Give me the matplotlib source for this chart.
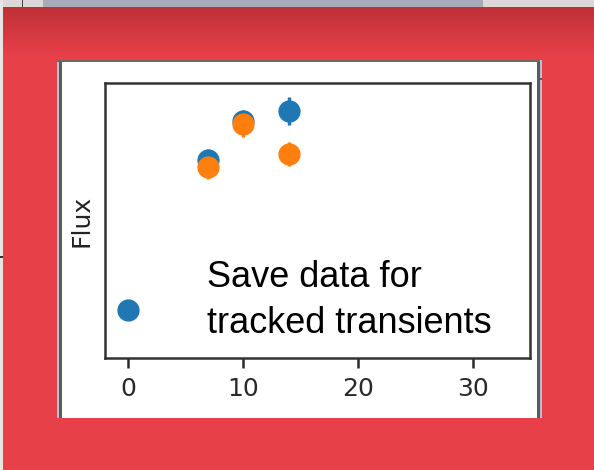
import matplotlib
matplotlib.use("Agg")
import matplotlib.pyplot as plt
import numpy as np
from matplotlib.patches import Rectangle

# epochs (days) and flux for the two tracked transients
days_a = [0, 7, 10, 14]
flux_a = [0.175, 0.72, 0.862, 0.898]
err_a = [0.03, 0.04, 0.04, 0.05]

days_b = [7, 10, 14]
flux_b = [0.695, 0.851, 0.742]
err_b = [0.045, 0.047, 0.045]

xticks = [0, 10, 20, 30]
note = "Save data for\ntracked transients"

W, H = 594, 470
fig = plt.figure(figsize=(W / 100, H / 100), dpi=100)
fig.patch.set_facecolor("#e9404a")


def px_rect(x0, y0, x1, y1, color, z=0):
    # rectangle in screen pixels (y measured from the top)
    fig.add_artist(Rectangle((x0 / W, 1 - y1 / H), (x1 - x0) / W, (y1 - y0) / H,
                             transform=fig.transFigure, facecolor=color,
                             edgecolor="none", zorder=z))


# red backdrop with a darker top gradient
bg = fig.add_axes([0, 0, 1, 1], zorder=-10)
bg.axis("off")
top = np.array([0.75, 0.19, 0.22])
low = np.array([0.913, 0.251, 0.290])
rows = np.clip((np.arange(H) - 7) / 50, 0, 1)[:, None]
img = top + (low - top) * rows
bg.imshow(np.repeat(img[:, None, :], 2, axis=1), aspect="auto",
          extent=[0, 1, 0, 1], transform=fig.transFigure)

# screenshot leftovers above and to the left
px_rect(0, 0, W, 7, "#d9d9d9", 1)
px_rect(43, 0, 483, 7, "#a3adb9", 1)
px_rect(22, 0, 23, 7, "#444444", 2)
px_rect(0, 0, 3, H, "#e6e6e6", 1)
px_rect(0, 256, 3, 258, "#333333", 2)

# white slide panel
px_rect(57, 60, 542, 418, "#ffffff", 1)
px_rect(57, 60, 59, 418, "#b4c2d0", 2)
px_rect(59, 60, 62, 418, "#5a5a5a", 2)
px_rect(537, 60, 540, 418, "#5a5a5a", 2)
px_rect(540, 60, 542, 418, "#b4c2d0", 2)
px_rect(57, 60, 540, 62, "#6a6a6a", 2)
px_rect(540, 78, 542, 80, "#5a5a5a", 2)

ax = fig.add_axes([105 / W, 1 - 358 / H, 425 / W, 275 / H], zorder=5)
ax.errorbar(days_a, flux_a, yerr=err_a, fmt="o", ms=15, color="#1f77b4",
            elinewidth=2.5, capsize=0)
ax.errorbar(days_b, flux_b, yerr=err_b, fmt="o", ms=15, color="#ff7f0e",
            elinewidth=2.5, capsize=0)
ax.set_xlim(-2, 35)
ax.set_ylim(0, 1)
ax.set_xticks(xticks)
ax.set_yticks([])
ax.tick_params(axis="x", labelsize=18, length=7, width=1.8, pad=7,
               colors="#2a2a2a")
for s in ax.spines.values():
    s.set_linewidth(1.8)
    s.set_color("#333333")
ax.set_ylabel("Flux", fontsize=18, labelpad=8, color="#222222")
ax.text(0.24, 0.09, note, transform=ax.transAxes, fontsize=26,
        family="Liberation Sans", va="baseline", ha="left", linespacing=1.42)

fig.savefig("out.png", dpi=100, facecolor=fig.get_facecolor())
